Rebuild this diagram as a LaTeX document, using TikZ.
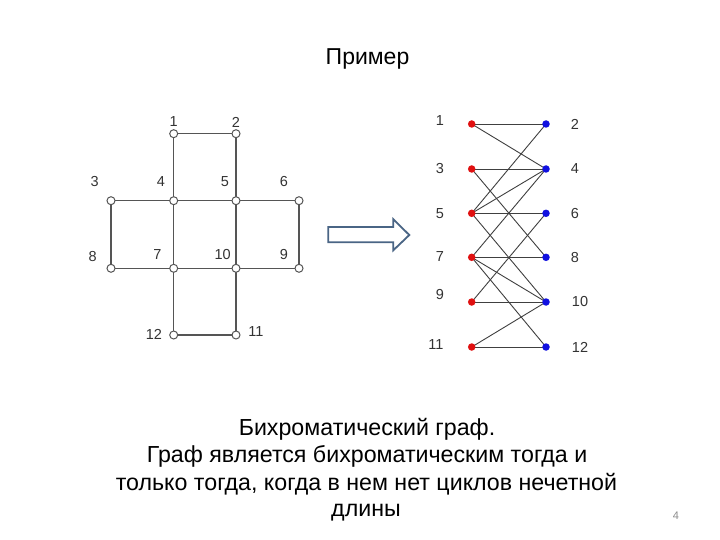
\documentclass[tikz,border=0pt]{standalone}
\usepackage{fontspec}
\setmainfont{Liberation Sans}
\newfontfamily\arialf{Liberation Sans}
\definecolor{edgegray}{HTML}{555555}
\definecolor{labgray}{HTML}{333333}
\definecolor{dotred}{HTML}{E01010}
\definecolor{dotblue}{HTML}{1010E0}
\definecolor{arrowcol}{HTML}{4A6585}
\begin{document}
\begin{tikzpicture}[x=1pt,y=-1pt,
  vtx/.style={circle,draw=edgegray,fill=white,line width=1pt,inner sep=0pt,minimum size=8pt},
  gedge/.style={draw=edgegray,line width=1.2pt},
  lab/.style={font=\arialf\fontsize{14.5}{16}\selectfont,text=labgray,inner sep=0pt},
  reddot/.style={circle,fill=dotred,inner sep=0pt,minimum size=7.5pt},
  bluedot/.style={circle,fill=dotblue,inner sep=0pt,minimum size=7.5pt},
  bedge/.style={draw=black!75,line width=0.9pt},
  txtline/.style={font=\fontsize{23.2}{26}\selectfont,inner sep=0pt,anchor=base}]
\useasboundingbox (0,0) rectangle (720,540);
\fill[white] (0,0) rectangle (720,540);
% title
\node[font=\fontsize{23}{25}\selectfont,inner sep=0pt] (title) at (367.5,59) {Пример};
% left graph
\coordinate (p1) at (173.7,133.7);
\coordinate (p2) at (236,133.7);
\coordinate (p3) at (111,200.7);
\coordinate (p4) at (173.7,200.7);
\coordinate (p5) at (236,200.7);
\coordinate (p6) at (299,200.7);
\coordinate (p8) at (111,268.3);
\coordinate (p7) at (173.7,268.3);
\coordinate (p10) at (236,268.3);
\coordinate (p9) at (299,268.3);
\coordinate (p12) at (173.7,335);
\coordinate (p11) at (236,335);
\foreach \a/\b in {1/2,1/4,2/5,3/4,4/5,5/6,3/8,4/7,5/10,6/9,8/7,7/10,10/9,7/12,10/11,12/11}
  \draw[gedge] (p\a) -- (p\b);
\foreach \i in {1,...,12}
  \node[vtx] (v\i) at (p\i) {};
\node[lab] (l1) at (173.7,122) {1};
\node[lab] (l2) at (236,122) {2};
\node[lab] (l3) at (94.7,182) {3};
\node[lab] (l4) at (161,182) {4};
\node[lab] (l5) at (225,182) {5};
\node[lab] (l6) at (284,182) {6};
\node[lab] (l8) at (92.7,257) {8};
\node[lab] (l7) at (157.3,255) {7};
\node[lab] (l10) at (222.7,255) {10};
\node[lab] (l9) at (284,255) {9};
\node[lab] (l12) at (154,334.3) {12};
\node[lab] (l11) at (256,331.5) {11};
% block arrow
\draw[draw=arrowcol,fill=white,line width=1.8pt,line join=miter]
  (328.3,227) -- (393.3,227) -- (393.3,219.3) -- (409.3,235) -- (393.3,250.3)
  -- (393.3,242.3) -- (328.3,242.3) -- cycle;
% right graph
\foreach \i/\y in {1/124,3/169,5/213.3,7/257.3,9/302,11/347}
  \coordinate (q\i) at (471.7,\y);
\foreach \i/\y in {2/124,4/169,6/213.3,8/257.3,10/302,12/347}
  \coordinate (q\i) at (546,\y);
\foreach \a/\b in {1/2,1/4,5/2,3/4,5/4,5/6,3/8,7/4,5/10,9/6,7/8,7/10,9/10,7/12,11/10,11/12}
  \draw[bedge] (q\a) -- (q\b);
\foreach \i in {1,3,5,7,9,11}
  \node[reddot] (r\i) at (q\i) {};
\foreach \i in {2,4,6,8,10,12}
  \node[bluedot] (b\i) at (q\i) {};
\node[lab] (m1) at (440,120.7) {1};
\node[lab] (m3) at (440,169) {3};
\node[lab] (m5) at (440,213.3) {5};
\node[lab] (m7) at (440,257) {7};
\node[lab] (m9) at (440,295) {9};
\node[lab] (m11) at (436,345) {11};
\node[lab] (m2) at (575,124) {2};
\node[lab] (m4) at (575,169) {4};
\node[lab] (m6) at (575,213.3) {6};
\node[lab] (m8) at (575,257.3) {8};
\node[lab] (m10) at (580,301.7) {10};
\node[lab] (m12) at (580,347) {12};
% bottom text
\node[txtline] (t1) at (367,435) {Бихроматический граф.};
\node[txtline] (t2) at (367,462.5) {Граф является бихроматическим тогда и};
\node[txtline] (t3) at (366.5,490) {только тогда, когда в нем нет циклов нечетной};
\node[txtline] (t4) at (366,516.5) {длины};
\node[font=\fontsize{11}{13}\selectfont,text=black!45,inner sep=0pt] (pg) at (676,516) {4};
\end{tikzpicture}
\end{document}
